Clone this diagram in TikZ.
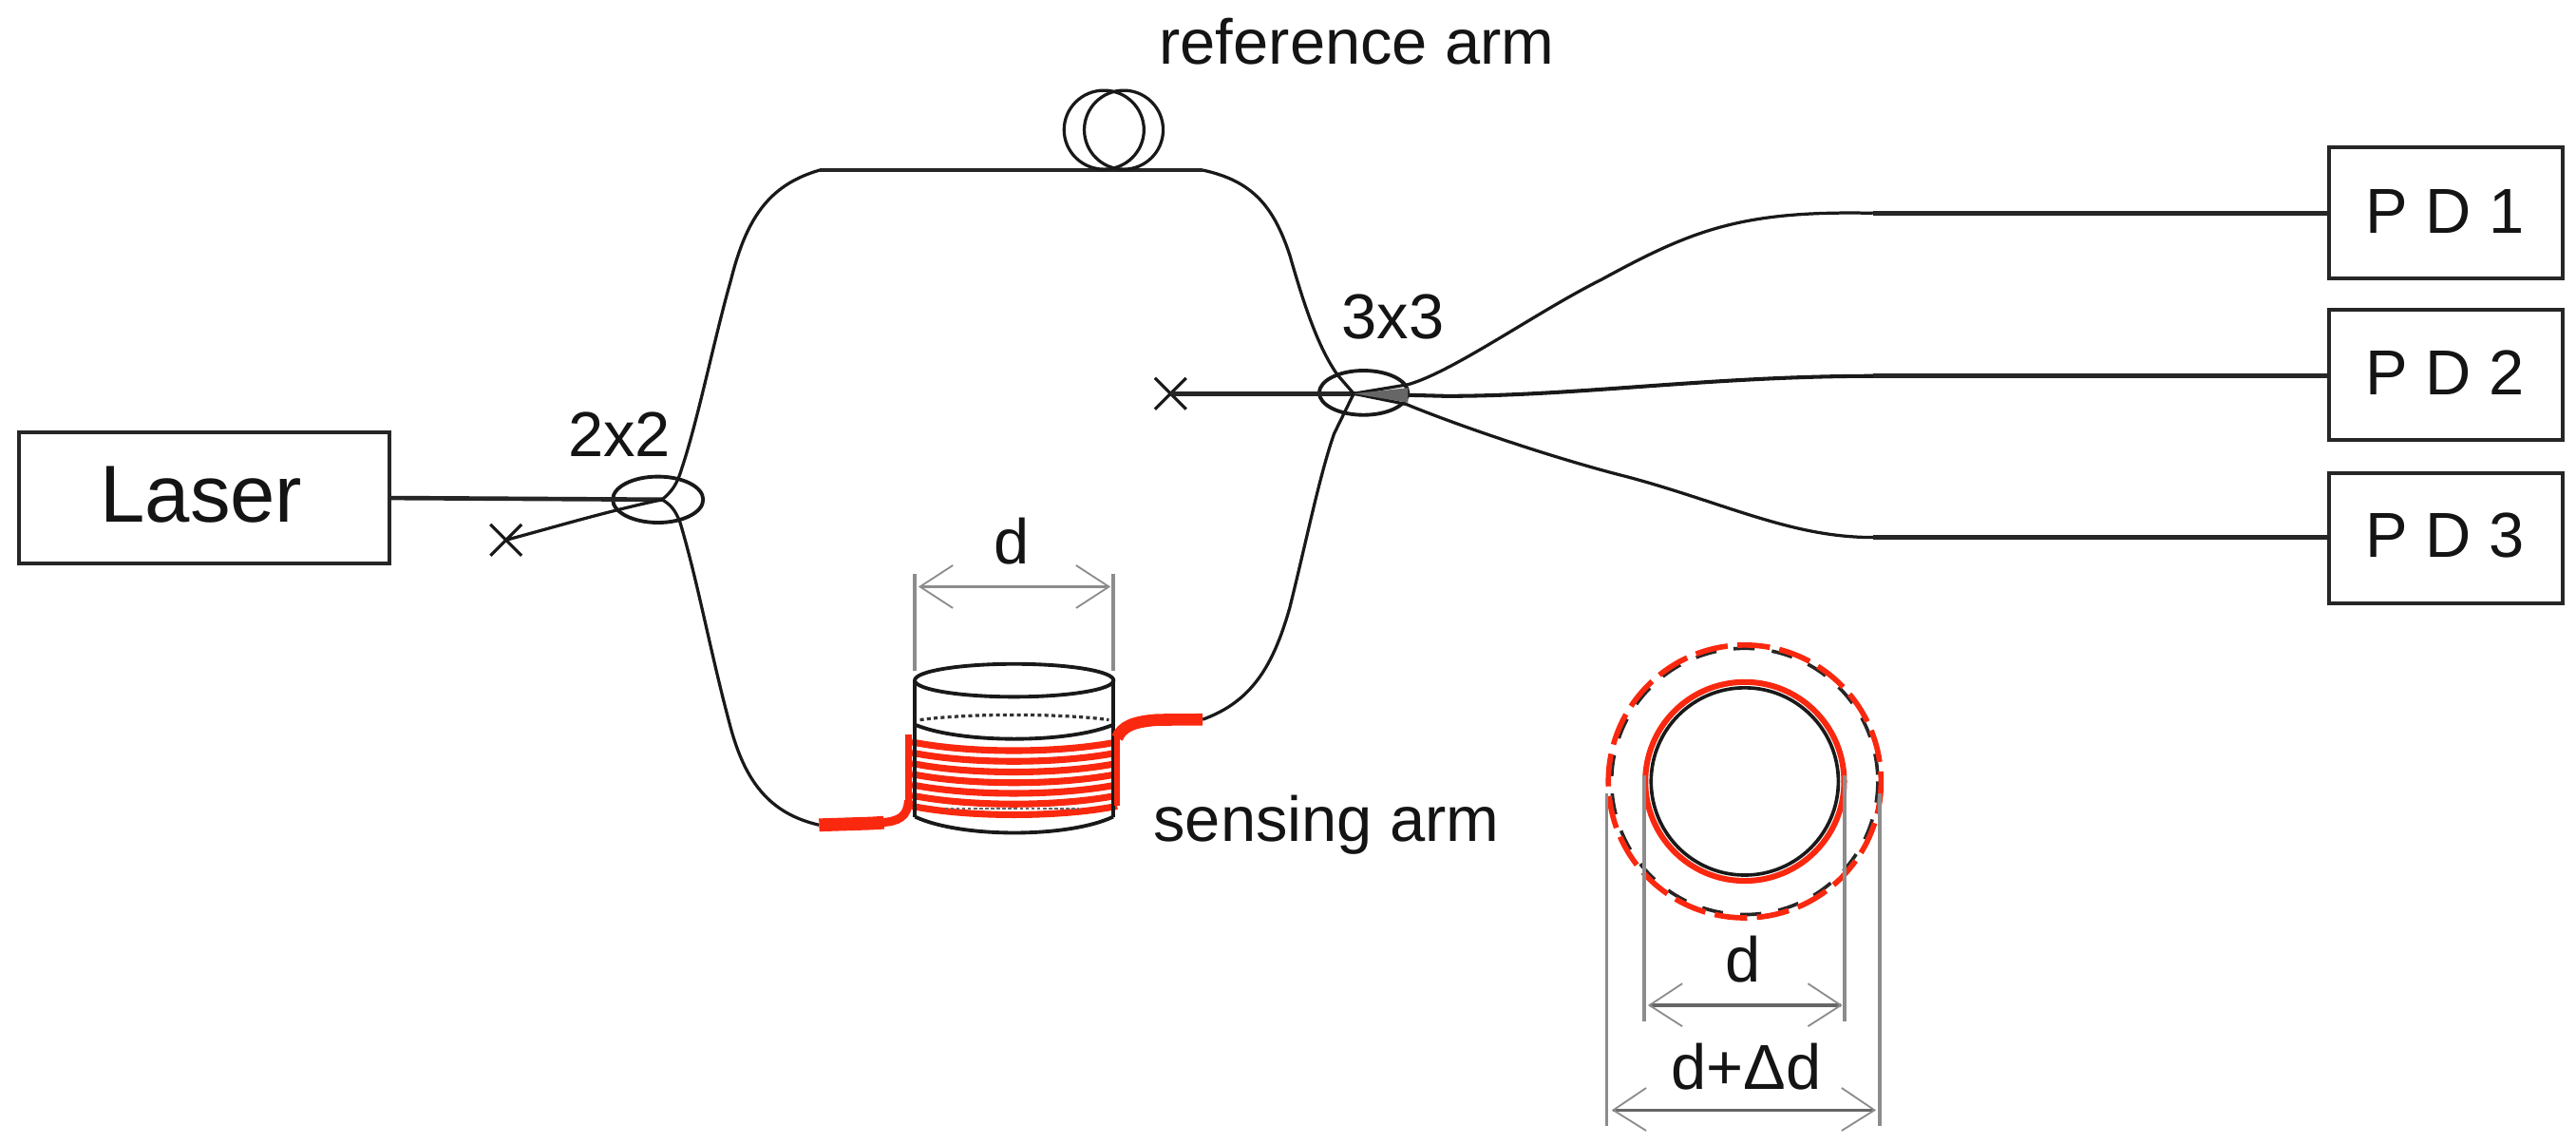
\documentclass[tikz,border=0pt]{standalone}
\usepackage{fontspec}
\setmainfont{Liberation Sans}
\definecolor{redf}{RGB}{250,40,15}
\definecolor{dimg}{RGB}{140,140,140}
\tikzset{
  x=0.03cm,y=-0.03cm,
  fiber/.style={black!90,line width=1.6pt,line join=round},
  hfiber/.style={black!85,line width=2.3pt},
  wall/.style={black!90,line width=1.9pt},
  redthick/.style={redf,line width=6.8pt},
  redthin/.style={redf,line width=3pt},
  wind/.style={redf,line width=3.5pt},
  dimline/.style={dimg,line width=1.9pt},
  dimarrow/.style={black!60,line width=1.6pt},
  headline/.style={black!45,line width=0.9pt},
  boxn/.style={draw=black!85,line width=2pt,inner sep=0pt,outer sep=0pt,anchor=north west},
  lab/.style={inner sep=0pt,text=black!92},
  biglab/.style={lab,font=\fontsize{33}{33}\selectfont},
  pdlab/.style={lab,font=\fontsize{33}{33}\selectfont},
}
\newcommand{\xmark}[2]{\draw[fiber] (#1-9.5,#2-9.5) -- (#1+9.5,#2+9.5) (#1-9.5,#2+9.5) -- (#1+9.5,#2-9.5);}
\begin{document}
\begin{tikzpicture}
\useasboundingbox (0,0) rectangle (1568,696);
% boxes
\node[boxn,minimum width=6.76cm,minimum height=2.39cm] (laser) at (11.8,263) {};
\node[lab,font=\fontsize{42}{42}\selectfont] (laserlab) at (122.5,301) {Laser};
\node[boxn,minimum width=4.27cm,minimum height=2.4cm] (pd1) at (1417.8,89.5) {};
\node[boxn,minimum width=4.27cm,minimum height=2.38cm] (pd2) at (1417.8,188.5) {};
\node[boxn,minimum width=4.27cm,minimum height=2.38cm] (pd3) at (1417.8,288) {};
\node[pdlab] (t1) at (1488,128.6) {P D 1};
\node[pdlab] (t2) at (1488,227) {P D 2};
\node[pdlab] (t3) at (1488,326) {P D 3};
% labels
\node[biglab] (refl) at (826,25) {reference arm};
\node[biglab] (senl) at (807.5,502) {sensing arm};
\node[biglab] (l22) at (377,264.5) {2x2};
\node[biglab] (l33) at (848,193) {3x3};
\node[biglab] (d1) at (616,329.5) {d};
\node[biglab] (d2) at (1061,584) {d};
\node[biglab] (d3) at (1063,649) {d+Δd};
\coordinate (c22) at (400.5,304);
\coordinate (j22) at (403,304);
\coordinate (c33) at (830,239);
\coordinate (j33) at (824,239.5);
\coordinate (x1) at (308,328.6);
\coordinate (x2) at (712.5,239.5);
\xmark{308}{328.6}
\xmark{712.5}{239.5}
\draw[wall] (c22) ellipse (27.5 and 14);
\draw[wall] (c33) ellipse (27 and 13.5);
\draw[hfiber] (laser.east |- 0,303) -- (j22);
\draw[fiber] (x1) .. controls (340,320) and (370,311) .. (j22);
\draw[hfiber] (x2) -- (j33);
% top arm
\draw[fiber] (j22) .. controls (409,299) and (412,295) .. (415,285) .. controls (425,255) and (435,205) .. (445,170) .. controls (455,130) and (470,112) .. (499,103.5);
\draw[hfiber] (499,103.5) -- (732,103.5);
\draw[fiber] (732,103.5) .. controls (762,110) and (775,125) .. (785,155) .. controls (795,190) and (803,212) .. (814,228) -- (j33);
% bottom arm
\draw[fiber] (j22) .. controls (408,307) and (411,310) .. (414,318) .. controls (425,355) and (432,395) .. (444,440) .. controls (453,475) and (468,495) .. (498.6,502);
\draw[fiber] (732,437.8) .. controls (762,427) and (775,405) .. (785,370) .. controls (795,330) and (803,290) .. (812,264) -- (j33);
% outputs
\draw[fiber] (j33) -- (857,234) .. controls (885,226) and (935,190) .. (975,170) .. controls (1030,140) and (1060,128) .. (1140,129.7);
\draw[hfiber] (1140,129.7) -- (pd1.west |- 0,129.7);
\draw[fiber,line width=2pt] (j33) -- (880,241) .. controls (960,241) and (1040,229) .. (1140,228.8);
\draw[hfiber] (1140,228.8) -- (pd2.west |- 0,228.8);
\draw[fiber] (j33) -- (856,246) .. controls (890,260) and (950,280) .. (990,290) .. controls (1050,306) and (1090,327) .. (1140,327);
\draw[hfiber] (1140,327) -- (pd3.west |- 0,327);
\fill[black!60] (j33) -- (857,236) -- (857,245) -- cycle;
% coil on reference arm
\draw[fiber] (672,79) ellipse (24.3 and 24);
\draw[fiber] (684,79) ellipse (24 and 24);
% drum
\foreach \yy in {457,463.5,470,476.5,483,489.5,496} {
  \draw[wind] (555,\yy-5.5) .. controls (590,\yy+1.5) and (644,\yy+1.5) .. (680,\yy-5.5);
}
\draw[wall] (557,414) -- (557,497) (677.6,414) -- (677.6,497);
\draw[wall] (617.3,414) ellipse (60.5 and 10);
\draw[wall] (557,441) .. controls (585,452.5) and (650,452.5) .. (677.6,441);
\draw[black!80,line width=1.6pt,dash pattern=on 2pt off 1.6pt] (560,438) .. controls (590,434) and (645,434) .. (675,438);
\draw[wall] (557,497) .. controls (585,510) and (650,510) .. (677.6,497);
\draw[black!60,line width=1.2pt,dash pattern=on 1.8pt off 1.2pt] (575,492) -- (657,492);
\draw[redthin] (553,447) -- (553,490);
\draw[redthick] (498.6,502) -- (530,501) -- (538,500.5);
\draw[redf,line width=4.5pt] (536,500.5) .. controls (547,500) and (552.5,497) .. (553,487);
\draw[redthin] (680,448) -- (680,490);
\draw[redthick,line width=6.2pt] (732,437.8) -- (705,438) .. controls (690,439) and (683,442) .. (680,449);
% dims on drum
\draw[dimline] (557,408) -- (557,349) (677.6,408) -- (677.6,349);
\draw[dimarrow,black!45] (560,357) -- (675,357);
\draw[headline] (580,344) -- (560,357) -- (580,370) (655,344) -- (675,357) -- (655,370);
% circles
\coordinate (cc) at (1062,475.5);
\draw[black!90,line width=1.8pt] (cc) circle (57);
\draw[redf,line width=3pt] (cc) circle (60.5);
\draw[black!85,line width=1.8pt,dash pattern=on 11pt off 9pt] (cc) circle (81);
\draw[redf,line width=2.8pt,dash pattern=on 17pt off 5pt] (cc) circle (83);
% dims circles
\draw[dimline] (1000.6,472) -- (1000.6,621.6) (1122.6,472) -- (1122.6,621.6);
\draw[dimline] (978,483) -- (978,685) (1144,483) -- (1144,685);
\draw[dimarrow] (1004,611.7) -- (1120.5,611.7);
\draw[headline] (1024,598.5) -- (1004,611.7) -- (1024,624.5) (1100.5,598.5) -- (1120.5,611.7) -- (1100.5,624.5);
\draw[dimarrow] (982,675.5) -- (1141,675.5);
\draw[headline] (1002,662) -- (982,675.5) -- (1002,688) (1121,662) -- (1141,675.5) -- (1121,688);
\end{tikzpicture}
\end{document}
